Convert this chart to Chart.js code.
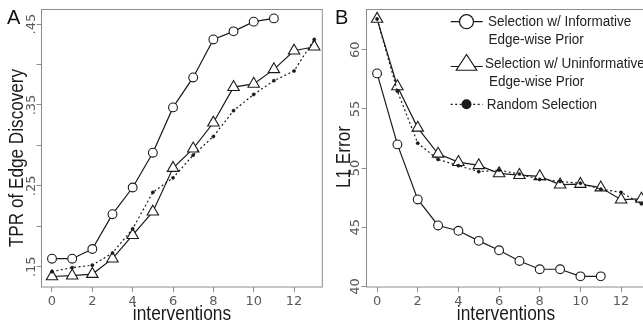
<!DOCTYPE html>
<html><head><meta charset="utf-8">
<script src="https://cdn.jsdelivr.net/npm/chart.js@4.4.1/dist/chart.umd.min.js"></script>
<style>
html,body{margin:0;padding:0;background:#fff;overflow:hidden;width:643px;height:325px;position:relative;}
#wa{position:absolute;left:0;top:0;width:330px;height:325px;}
#wb{position:absolute;left:330px;top:0;width:330px;height:325px;}
canvas{display:block;}
</style></head><body>
<div id="wa"><canvas id="ca" width="330" height="325"></canvas></div>
<div id="wb"><canvas id="cb" width="330" height="325"></canvas></div>
<script>
// ---- data ----
const interventions = [0,1,2,3,4,5,6,7,8,9,10,11,12,13];
const seriesLabels = [
  ['Selection w/ Informative','Edge-wise Prior'],
  ['Selection w/ Uninformative','Edge-wise Prior'],
  ['Random Selection']
];
// Panel A: TPR of Edge Discovery
const tprInformative   = [0.160,0.160,0.172,0.215,0.248,0.291,0.347,0.384,0.431,0.441,0.453,0.457];
const tprUninformative = [0.138,0.139,0.141,0.160,0.189,0.218,0.272,0.296,0.328,0.372,0.376,0.394,0.417,0.422];
const tprRandom        = [0.144,0.149,0.152,0.167,0.197,0.242,0.260,0.288,0.311,0.343,0.363,0.380,0.392,0.431];
// Panel B: L1 Error
const l1Informative   = [58.0,52.0,47.35,45.15,44.7,43.85,43.05,42.15,41.45,41.45,40.85,40.85];
const l1Uninformative = [62.6,56.9,53.4,51.2,50.5,50.23,49.55,49.4,49.3,48.6,48.65,48.35,47.33,47.4];
const l1Random        = [62.6,56.5,52.1,50.73,50.2,49.7,49.82,49.5,49.04,48.87,48.72,48.22,47.95,46.98];
// ticks
const xTicks = [0,2,4,6,8,10,12];
const tprTicks  = [0.15,0.20,0.25,0.30,0.35,0.40,0.45];
const tprTickLabels = ['.15','','.25','','.35','','.45'];
const l1Ticks  = [40,45,50,55,60];
const l1TickLabels = ['40','45','50','55','60'];

const INK = '#1a1a1a';
function mk(label, vals, kind){
  const base = {label: label.join(' '), data: vals.map((v,i)=>({x:interventions[i], y:v})),
    borderColor: INK, borderWidth: 1.2, tension: 0, fill: false,
    pointBorderColor: INK, pointBorderWidth: 1.1, pointBackgroundColor: '#fff'};
  if(kind==='circle') Object.assign(base,{pointStyle:'circle', pointRadius:4.4, order:2});
  if(kind==='tri') Object.assign(base,{pointStyle:'triangle', pointRadius:6.6, order:1});
  if(kind==='dot') Object.assign(base,{pointStyle:'circle', pointRadius:1.6, pointBorderWidth:0.5, pointBackgroundColor:INK, borderDash:[2,2.5], order:0});
  return base;
}

function txt(ctx, s, x, y, opt){
  ctx.save();
  ctx.translate(x,y);
  if(opt.rot) ctx.rotate(opt.rot);
  ctx.scale(opt.sx||1,1);
  ctx.font = opt.font; ctx.fillStyle = opt.color||INK;
  ctx.textAlign = opt.align||'left'; ctx.textBaseline = opt.base||'alphabetic';
  ctx.fillText(s,0,0);
  ctx.restore();
}

const deco = {
  id:'deco',
  afterDraw(chart, args, o){
    const ctx = chart.ctx, ca = chart.chartArea;
    ctx.save();
    ctx.strokeStyle = '#8c8c8c'; ctx.lineWidth = 1; ctx.setLineDash([]);
    ctx.strokeRect(ca.left, ca.top, ca.right-ca.left, ca.bottom-ca.top);
    const ys = chart.scales.y;
    o.yTicks.forEach((v,i)=>{
      const t = o.yLabels[i]; if(!t) return;
      txt(ctx, t, ca.left - o.yLabOff, ys.getPixelForValue(v), {rot:-Math.PI/2, font:'13px "DejaVu Sans"', color:'#5a5a5a', align:'center', base:'middle'});
    });
    txt(ctx, o.letter, o.letterX, 23.5, {font:'20px "Liberation Sans"', color:'#111'});
    txt(ctx, o.yTitle, o.yTitleX, o.yTitleY, {rot:-Math.PI/2, sx:0.88, font:'19.5px "Liberation Sans"', align:'center'});
    txt(ctx, 'interventions', o.xTitleX, 319.5, {sx:0.89, font:'19.5px "Liberation Sans"', align:'center'});
    if(o.legend){
      const L = o.legend;
      ctx.strokeStyle = INK; ctx.fillStyle = INK; ctx.lineWidth = 1.2;
      // entry 1
      ctx.beginPath(); ctx.moveTo(L.x0, L.y[0]); ctx.lineTo(L.x1, L.y[0]); ctx.stroke();
      ctx.beginPath(); ctx.arc(L.xm, L.y[0], 7, 0, Math.PI*2); ctx.fillStyle='#fff'; ctx.fill(); ctx.stroke();
      // entry 2
      ctx.beginPath(); ctx.moveTo(L.x0, L.y[1]+1.5); ctx.lineTo(L.x1, L.y[1]+1.5); ctx.stroke();
      const r = 10.5, cy = L.y[1];
      ctx.beginPath(); ctx.moveTo(L.xm, cy - r); ctx.lineTo(L.xm + r*0.98, cy + r/2); ctx.lineTo(L.xm - r*0.98, cy + r/2); ctx.closePath();
      ctx.fillStyle='#fff'; ctx.fill(); ctx.stroke();
      // entry 3
      ctx.setLineDash([2,2.5]);
      ctx.beginPath(); ctx.moveTo(L.x0, L.y[2]); ctx.lineTo(L.x1, L.y[2]); ctx.stroke();
      ctx.setLineDash([]);
      ctx.beginPath(); ctx.arc(L.xm, L.y[2], 5, 0, Math.PI*2); ctx.fillStyle=INK; ctx.fill();
      const f = {sx:0.87, font:'15.5px "Liberation Sans"', color:'#222', base:'middle'};
      seriesLabels.forEach((lines,i)=>{
        lines.forEach((s,j)=>{ txt(ctx, s, L.tx[i][j], L.ty[i][j], f); });
      });
    }
    ctx.restore();
  }
};

function scaleCfg(min,max,ticks,fitW,fitH,axis){
  const c = {type:'linear', min, max,
    border:{display:false},
    grid:{display:true, drawOnChartArea:false, drawTicks:true, tickLength:5, color:'#8c8c8c', lineWidth:1},
    afterBuildTicks: s => { s.ticks = ticks.map(v=>({value:v})); },
  };
  if(axis==='x'){
    c.ticks = {display:true, font:{family:'DejaVu Sans', size:13}, color:'#5a5a5a', padding:2, maxRotation:0, autoSkip:false, callback: v => String(v)};
    c.afterFit = s => { s.height = fitH; };
  } else {
    c.ticks = {display:false};
    c.afterFit = s => { s.width = fitW; };
  }
  return c;
}

function makeChart(id, sets, xr, yr, yTicks, yLabels, pad, yW, deco_o){
  return new Chart(document.getElementById(id), {
    type:'line',
    data:{datasets: sets},
    options:{
      responsive:false, animation:false, devicePixelRatio:1, events:[],
      layout:{padding:pad},
      scales:{
        x: scaleCfg(xr[0], xr[1], xTicks, 0, 325-287, 'x'),
        y: scaleCfg(yr[0], yr[1], yTicks, yW, 0, 'y')
      },
      plugins:{legend:{display:false}, tooltip:{enabled:false}, deco: deco_o}
    },
    plugins:[deco]
  });
}

makeChart('ca', [
    mk(seriesLabels[0], tprInformative, 'circle'),
    mk(seriesLabels[1], tprUninformative, 'tri'),
    mk(seriesLabels[2], tprRandom, 'dot')
  ], [-0.52, 13.4], [0.125, 0.468], tprTicks, tprTickLabels,
  {left:0, top:9.5, right:5, bottom:0}, 41.5,
  {yTicks:tprTicks, yLabels:tprTickLabels, yLabOff:9.5, letter:'A', letterX:7,
   yTitle:'TPR of Edge Discovery', yTitleX:23, yTitleY:158, xTitleX:182});

makeChart('cb', [
    mk(seriesLabels[0], l1Informative, 'circle'),
    mk(seriesLabels[1], l1Uninformative, 'tri'),
    mk(seriesLabels[2], l1Random, 'dot')
  ], [-0.52, 13.52], [39.95, 63.4], l1Ticks, l1TickLabels,
  {left:0, top:9.5, right:8, bottom:0}, 36.5,
  {yTicks:l1Ticks, yLabels:l1TickLabels, yLabOff:10.5, letter:'B', letterX:5,
   yTitle:'L1 Error', yTitleX:20, yTitleY:157, xTitleX:176,
   legend:{x0:120.7, x1:152.7, xm:136.5, y:[21.7,65,104.3],
     tx:[[158,158.5],[155,159],[156.7]], ty:[[21.7,40],[63.3,81.7],[104.3]]}});
</script>
</body></html>
